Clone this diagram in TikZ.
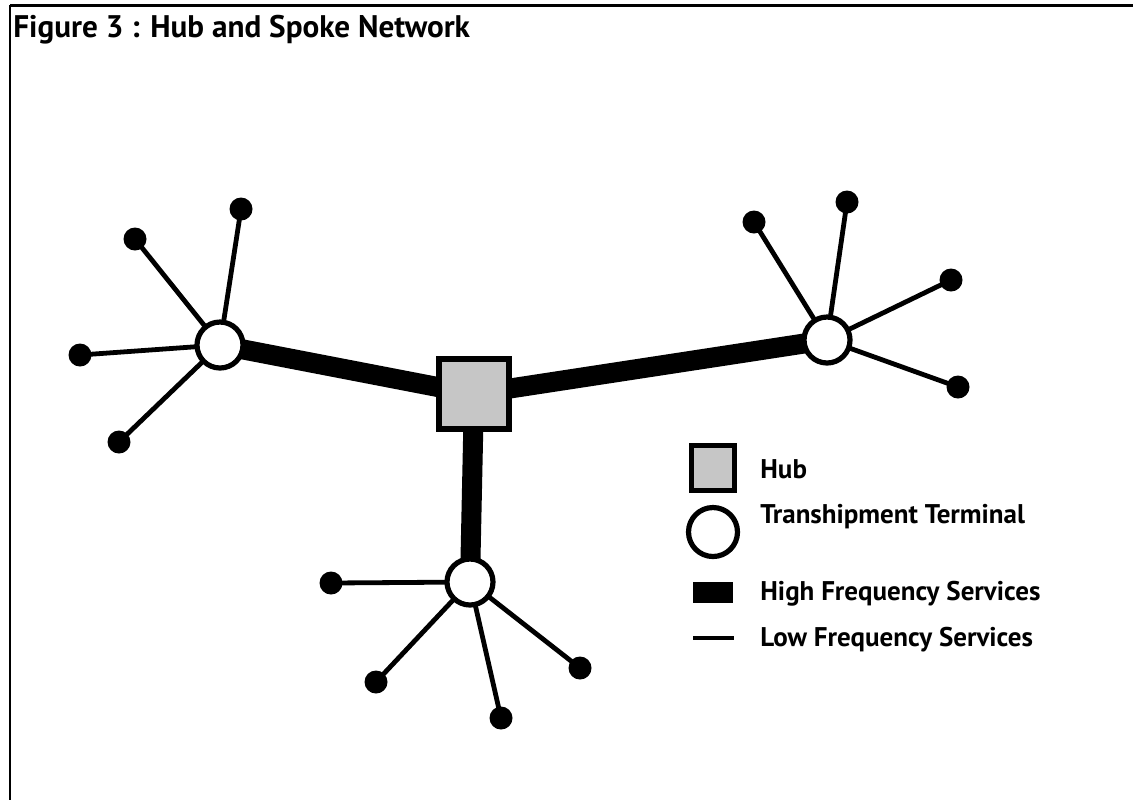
\documentclass[tikz,border=0pt]{standalone}
\usepackage{fontspec}
\setmainfont{PT Sans}
\usetikzlibrary{backgrounds}

\begin{document}
\begin{tikzpicture}[x=0.5pt,y=-0.5pt,
    hub/.style={draw,line width=3pt,fill=gray!45,minimum size=35pt,inner sep=0pt},
    terminal/.style={circle,draw,line width=2.6pt,fill=white,minimum size=23pt,inner sep=0pt},
    leaf/.style={circle,fill=black,minimum size=11.5pt,inner sep=0pt},
    high/.style={line width=10pt},
    low/.style={line width=2.4pt},
    txt/.style={anchor=base west,inner sep=0pt,font=\bfseries\fontsize{13.5}{16}\selectfont}]
    \useasboundingbox (0,0) rectangle (1133,800);
    \draw [line width=1.5pt] (10,5) -- (1133,5);
    \draw [line width=1pt] (10,5) -- (10,800);
    \node [txt,font=\bfseries\fontsize{15.6}{18}\selectfont] (title) at (13,37) {Figure 3 : Hub and Spoke Network};

    \node [hub] (hub) at (474,394) {};
    \node [terminal] (tw) at (220,345) {};
    \node [terminal] (te) at (827,340) {};
    \node [terminal] (ts) at (470,582) {};

    \node [leaf] (wa) at (241,209) {};
    \node [leaf] (wb) at (135,239) {};
    \node [leaf] (wc) at (80,355) {};
    \node [leaf] (wd) at (119,442) {};

    \node [leaf] (ea) at (754,222) {};
    \node [leaf] (eb) at (847,202) {};
    \node [leaf] (ec) at (951,280) {};
    \node [leaf] (ed) at (958,387) {};

    \node [leaf] (sa) at (331,583) {};
    \node [leaf] (sb) at (376,682) {};
    \node [leaf] (sc) at (501,718) {};
    \node [leaf] (sd) at (580,668) {};

    \begin{scope}[on background layer]
    \draw [high] (tw.center) -- (hub.center);
    \draw [high] (te.center) -- (hub.center);
    \draw [high] (ts.center) -- (hub.center);
    \foreach \l in {wa,wb,wc,wd} \draw [low] (tw.center) -- (\l.center);
    \foreach \l in {ea,eb,ec,ed} \draw [low] (te.center) -- (\l.center);
    \foreach \l in {sa,sb,sc,sd} \draw [low] (ts.center) -- (\l.center);
    \end{scope}

    % legend
    \node [hub,line width=2.5pt,minimum width=21.5pt,minimum height=22.5pt] (khub) at (713,468) {};
    \node [terminal,minimum size=24.5pt] (kterm) at (713,532) {};
    \node [fill=black,minimum width=20pt,minimum height=10.5pt,inner sep=0pt] (khigh) at (713,592) {};
    \coordinate (klowa) at (693,638);
    \coordinate (klowb) at (734,638);
    \draw [line width=2pt] (klowa) -- (klowb);

    \node [txt] (thub) at (760,478) {Hub};
    \node [txt] (tterm) at (760,523) {Transhipment Terminal};
    \node [txt] (thigh) at (760,600) {High Frequency Services};
    \node [txt] (tlow) at (760,646) {Low Frequency Services};
\end{tikzpicture}
\end{document}
